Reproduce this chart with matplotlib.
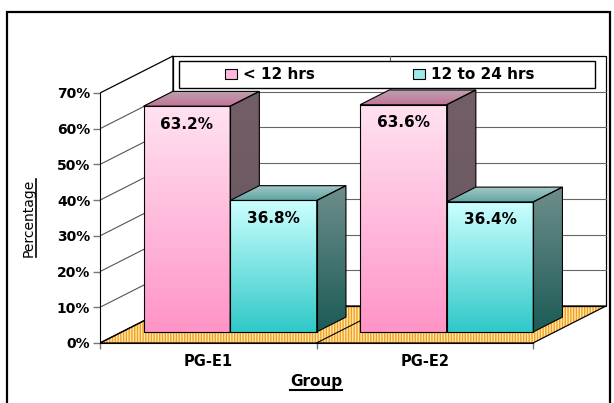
import numpy as np
import matplotlib
matplotlib.use('Agg')
import matplotlib.pyplot as plt
from matplotlib.patches import Polygon, Rectangle, Patch
from matplotlib.colors import LinearSegmentedColormap
from matplotlib.lines import Line2D

# data
groups = ['PG-E1', 'PG-E2']
series_names = ['< 12 hrs', '12 to 24 hrs']
lt_12 = [63.2, 63.6]
h12_24 = [36.8, 36.4]
yticks = [0, 10, 20, 30, 40, 50, 60, 70]

FONT = 'DejaVu Sans'
W, H = 614, 403
fig = plt.figure(figsize=(W / 100, H / 100), dpi=100)


def fx(px):
    return px / W


def fy(py):
    # py measured from the top
    return (H - py) / H


unit = (533 - 100) / 2.0      # px per category
ppp = 250 / 70.0              # px per percent
ax = fig.add_axes([fx(100), fy(343), (610 - 100) / W, (343 - 12) / H])

# depth offset of the fake 3d box, in data units
DX = 73 / unit
DY = 37 / ppp

# floor
floor = [(0, 0), (2, 0), (2 + DX, DY), (DX, DY)]
ax.add_patch(Polygon(floor, closed=True, facecolor='#FFE9B0', edgecolor='#F2A01E',
                     hatch='||||||', lw=0, zorder=1))
ax.add_patch(Polygon(floor, closed=True, fill=False, edgecolor='black', lw=0.9, zorder=1.2))

# walls
side = [(0, 0), (DX, DY), (DX, 70 + DY), (0, 70)]
back = [(DX, DY), (2 + DX, DY), (2 + DX, 70 + DY), (DX, 70 + DY)]
ax.add_patch(Polygon(side, closed=True, facecolor='white', edgecolor='black', lw=0.9, zorder=1))
ax.add_patch(Polygon(back, closed=True, facecolor='white', edgecolor='black', lw=0.9, zorder=1))
for v in yticks[1:-1]:
    ax.plot([0, DX], [v, v + DY], color='#555555', lw=0.8, zorder=1.5)
    ax.plot([DX, 2 + DX], [v + DY, v + DY], color='#666666', lw=0.8, zorder=1.5)
ax.plot([1 + DX, 1 + DX], [DY, 70 + DY], color='#666666', lw=0.8, zorder=1.5)
ax.plot([1, 1 + DX], [0, DY], color='black', lw=0.8, zorder=1.5)


def grad_fill(verts, c_top, c_bot, z):
    poly = Polygon(verts, closed=True, facecolor='none', edgecolor='black', lw=0.8, zorder=z + 0.1)
    ax.add_patch(poly)
    xs = [v[0] for v in verts]
    ys = [v[1] for v in verts]
    cmap = LinearSegmentedColormap.from_list('g', [c_bot, c_top])
    im = ax.imshow(np.linspace(0, 1, 256).reshape(-1, 1),
                   extent=[min(xs), max(xs), min(ys), max(ys)],
                   origin='lower', aspect='auto', cmap=cmap, zorder=z,
                   interpolation='bilinear')
    im.set_clip_path(poly)


styles = [
    # front top, front bottom, top back, top front, side top, side bottom
    ('#FFE2F1', '#FF94C7', '#BBA2AE', '#C3739A', '#725E67', '#6A565F'),
    ('#CCFFFF', '#30C8C8', '#A6C8C6', '#5EA6A4', '#6E8E8B', '#1C5B57'),
]

bw = 0.4
d0, dd = 0.3, 0.4
k = 0
for c in range(len(groups)):
    for i, vals in enumerate([lt_12, h12_24]):
        v = vals[c]
        st = styles[i]
        x0 = c + 0.1 + bw * i + d0 * DX
        x1 = x0 + bw
        yb = d0 * DY
        yt = v + d0 * DY
        ox, oy = dd * DX, dd * DY
        z = 10 + k
        grad_fill([(x0, yb), (x1, yb), (x1, yt), (x0, yt)], st[0], st[1], z)
        grad_fill([(x0, yt), (x1, yt), (x1 + ox, yt + oy), (x0 + ox, yt + oy)], st[2], st[3], z)
        grad_fill([(x1, yb), (x1 + ox, yb + oy), (x1 + ox, yt + oy), (x1, yt)], st[4], st[5], z)
        ax.text((x0 + x1) / 2, yt - 5.0, '%.1f%%' % v, ha='center', va='center',
                fontfamily=FONT, fontweight='bold', fontsize=11, zorder=z + 0.5)
        k += 1

ax.set_xlim(0, (610 - 100) / unit)
ax.set_ylim(0, (343 - 12) / ppp)

for s in ['top', 'right']:
    ax.spines[s].set_visible(False)
ax.spines['left'].set_bounds(0, 70)
ax.spines['bottom'].set_bounds(0, 2)
ax.spines['left'].set_zorder(20)
ax.spines['bottom'].set_zorder(20)

ax.set_yticks(yticks)
ax.set_yticklabels(['%d%%' % v for v in yticks], fontfamily=FONT, fontweight='bold', fontsize=10)
ax.tick_params(axis='y', length=5, width=1, color='#777777', pad=2)
ax.set_xticks([0, 1, 2])
ax.set_xticklabels([])
ax.tick_params(axis='x', which='major', length=4, width=1, color='#777777')
ax.set_xticks([0.5, 1.5], minor=True)
ax.set_xticklabels(groups, minor=True, fontfamily=FONT, fontweight='bold', fontsize=10.5)
ax.tick_params(axis='x', which='minor', length=0, pad=8)

# legend
fig.add_artist(Rectangle((fx(179), fy(88)), (595 - 179) / W, 27 / H, transform=fig.transFigure,
                         facecolor='white', edgecolor='black', lw=1, zorder=4))
handles = [Patch(facecolor='#FFB8DC', edgecolor='black', lw=0.8),
           Patch(facecolor='#9EEAEA', edgecolor='black', lw=0.8)]
fig.legend(handles, series_names, loc='center', bbox_to_anchor=(fx(380), fy(74.5)), ncol=2,
           frameon=False, columnspacing=6.4, handlelength=0.78, handleheight=0.65,
           handletextpad=0.4, prop=dict(family=FONT, weight='bold', size=11))

# axis titles (underlined)
t_y = fig.text(fx(33), fy(218), 'Percentage', rotation=90, rotation_mode='anchor',
               ha='center', va='baseline', fontfamily=FONT, fontsize=10)
t_x = fig.text(fx(316), fy(386), 'Group', ha='center', va='baseline',
               fontfamily=FONT, fontweight='bold', fontsize=11)
fig.canvas.draw()
bb = t_y.get_window_extent()
fig.add_artist(Line2D([fx(35.5), fx(35.5)], [bb.y0 / H, bb.y1 / H], transform=fig.transFigure,
                      color='black', lw=1.2))
bb = t_x.get_window_extent()
fig.add_artist(Line2D([bb.x0 / W, bb.x1 / W], [fy(389.5), fy(389.5)], transform=fig.transFigure,
                      color='black', lw=1.5))

# outer chart border
fig.add_artist(Rectangle((fx(7), -0.05), (610 - 7) / W, fy(12) + 0.05, transform=fig.transFigure,
                         fill=False, edgecolor='black', lw=1.6, clip_on=False, zorder=6))

fig.savefig('out.png', dpi=100)
